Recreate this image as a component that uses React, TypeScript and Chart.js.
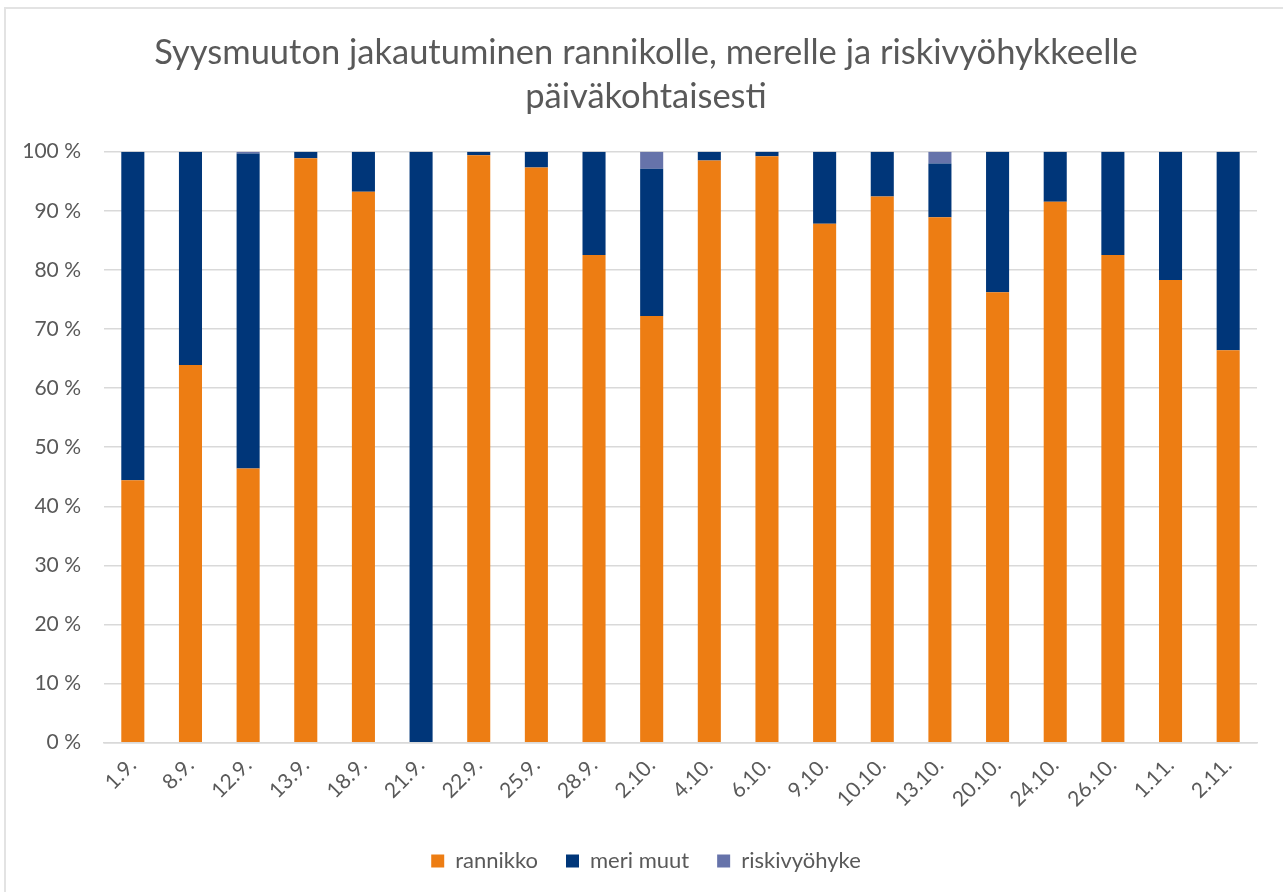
import React, { useEffect, useRef } from "react";
import { Chart, registerables } from "chart.js";

Chart.register(...registerables);

const categories = ["1.9.", "8.9.", "12.9.", "13.9.", "18.9.", "21.9.", "22.9.", "25.9.", "28.9.", "2.10.", "4.10.", "6.10.", "9.10.", "10.10.", "13.10.", "20.10.", "24.10.", "26.10.", "1.11.", "2.11."];
const rannikko = [44.4, 63.9, 46.4, 98.9, 93.2, 0, 99.4, 97.3, 82.5, 72.2, 98.5, 99.2, 87.8, 92.4, 88.9, 76.2, 91.5, 82.5, 78.3, 66.4];
const meriMuut = [55.6, 36.1, 53.3, 1.1, 6.8, 100, 0.6, 2.7, 17.5, 24.9, 1.5, 0.8, 12.2, 7.6, 9.1, 23.8, 8.5, 17.5, 21.7, 33.6];
const riskivyohyke = [0, 0, 0.3, 0, 0, 0, 0, 0, 0, 2.9, 0, 0, 0, 0, 2.0, 0, 0, 0, 0, 0];
const titleLines = ["Syysmuuton jakautuminen rannikolle, merelle ja riskivyöhykkeelle", "päiväkohtaisesti"];

const FONT = "Lato, 'Open Sans', sans-serif";
const GREY = "#595959";

export default function App() {
  const ref = useRef<HTMLCanvasElement>(null);
  useEffect(() => {
    document.body.style.margin = "0";
    const ctx = ref.current!;
    const chart = new Chart(ctx, {
      type: "bar",
      data: {
        labels: categories,
        datasets: [
          { label: "rannikko", data: rannikko, backgroundColor: "#ED7D13", barPercentage: 0.4, categoryPercentage: 1 },
          { label: "meri muut", data: meriMuut, backgroundColor: "#003679", barPercentage: 0.4, categoryPercentage: 1 },
          { label: "riskivyöhyke", data: riskivyohyke, backgroundColor: "#6673AA", barPercentage: 0.4, categoryPercentage: 1 },
        ],
      },
      options: {
        animation: false,
        responsive: false,
        maintainAspectRatio: false,
        layout: { padding: { left: 12, right: 9, top: 22, bottom: 10 } },
        plugins: {
          title: {
            display: true,
            text: titleLines,
            color: GREY,
            font: { family: FONT, size: 34.5, weight: "normal", lineHeight: 1.27 },
            padding: { top: 0, bottom: 33 },
          },
          legend: {
            position: "bottom",
            labels: {
              color: GREY,
              font: { family: FONT, size: 22 },
              boxWidth: 13,
              boxHeight: 13,
              padding: 28,
            },
          },
          tooltip: { enabled: false },
        },
        scales: {
          x: {
            stacked: true,
            grid: { display: false, drawTicks: false },
            border: { color: "#d9d9d9", width: 1.5 },
            afterFit: (s: any) => { s.paddingLeft = 0; s.paddingRight = 26; },
            ticks: {
              color: GREY,
              font: { family: FONT, size: 21 },
              maxRotation: 45,
              minRotation: 45,
              padding: 10,
            },
          },
          y: {
            stacked: true,
            min: 0,
            max: 100,
            grid: { color: "#d9d9d9", lineWidth: 1.5, drawTicks: false },
            border: { display: false },
            afterFit: (s: any) => { s.width = 86; },
            ticks: {
              stepSize: 10,
              color: GREY,
              font: { family: FONT, size: 21 },
              padding: 23,
              callback: (v: any) => `${v} %`,
            },
          },
        },
      },
    });
    return () => chart.destroy();
  }, []);
  return (
    <div style={{ position: "absolute", left: 4, top: 7, width: 1300, height: 900, borderTop: "2px solid #e3e3e3", borderLeft: "2px solid #e3e3e3", background: "#fff" }}>
      <canvas ref={ref} width={1277} height={883} style={{ display: "block" }} />
    </div>
  );
}
